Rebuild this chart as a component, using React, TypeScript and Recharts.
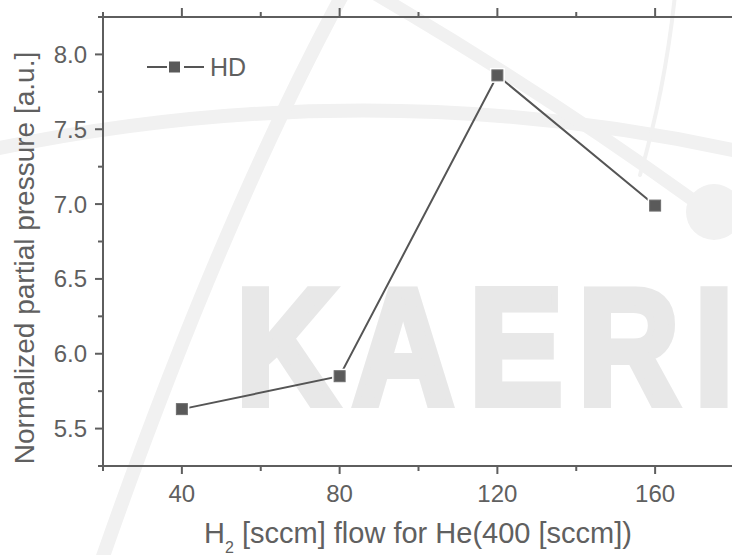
import { LineChart, Line, XAxis, YAxis, Label } from "recharts";

// H2 flow (sccm) and normalized HD partial pressure
const FLOW = [40, 80, 120, 160];
const HD = [5.63, 5.85, 7.86, 6.99];

const X_TICKS = [20, 40, 60, 80, 100, 120, 140, 160, 180];
const X_LABELS = [40, 80, 120, 160];
const Y_TICKS = [5.25, 5.5, 5.75, 6.0, 6.25, 6.5, 6.75, 7.0, 7.25, 7.5, 7.75, 8.0, 8.25];
const Y_LABELS = [5.5, 6.0, 6.5, 7.0, 7.5, 8.0];

const data = FLOW.map((f, i) => ({ flow: f, hd: HD[i] }));

const FONT = "'Liberation Sans', Arial, sans-serif";
const AXIS = "#5e5e5e";
const TEXT = "#606060";
const SERIES = "#555555";
const MARK = "#e8e8e8";
const SWOOP = "#f1f1f1";

const BottomTick = (props: any) => {
  const { x, y, payload } = props;
  const major = X_LABELS.includes(payload.value);
  return (
    <g>
      <line x1={x} x2={x} y1={y} y2={y + (major ? 8 : 5)} stroke={AXIS} strokeWidth={2} />
      {major && (
        <text x={x} y={y + 36} textAnchor="middle" fontSize={24} fill={TEXT} fontFamily={FONT}>
          {payload.value}
        </text>
      )}
    </g>
  );
};

const TopTick = (props: any) => {
  const { x, y, payload } = props;
  const major = X_LABELS.includes(payload.value);
  return <line x1={x} x2={x} y1={y} y2={y - (major ? 9 : 5)} stroke={AXIS} strokeWidth={2} />;
};

const LeftTick = (props: any) => {
  const { x, y, payload } = props;
  const major = Y_LABELS.some((v) => Math.abs(v - payload.value) < 1e-6);
  return (
    <g>
      <line x1={x - (major ? 8 : 5)} x2={x} y1={y} y2={y} stroke={AXIS} strokeWidth={2} />
      {major && (
        <text x={x - 16} y={y + 8.5} textAnchor="end" fontSize={24} fill={TEXT} fontFamily={FONT}>
          {payload.value.toFixed(1)}
        </text>
      )}
    </g>
  );
};

const SquareDot = (props: any) => {
  const { cx, cy, index } = props;
  return (
    <g key={index}>
      <rect x={cx - 7.5} y={cy - 7.5} width={15} height={15} fill="#ffffff" />
      <rect x={cx - 5.5} y={cy - 5.5} width={11} height={11} fill="#5a5a5a" stroke="#6e6e6e" strokeWidth={1} />
    </g>
  );
};

const XTitle = () => (
  <text x={418} y={543} textAnchor="middle" fontSize={29} fill={TEXT} fontFamily={FONT}>
    H<tspan fontSize={16} dy={10}>2</tspan>
    <tspan dy={-10}> [sccm] flow for He(400 [sccm])</tspan>
  </text>
);

const YTitle = () => (
  <text
    x={34}
    y={258}
    transform="rotate(-90 34 258)"
    textAnchor="middle"
    fontSize={28}
    fill={TEXT}
    fontFamily={FONT}
  >
    Normalized partial pressure [a.u.]
  </text>
);

export default function App() {
  return (
    <div style={{ position: "absolute", left: 0, top: 0, width: 732, height: 555, overflow: "hidden", background: "#fff" }}>
      {/* faint logo watermark behind the plot */}
      <svg width={732} height={555} style={{ position: "absolute", left: 0, top: 0 }}>
        <g fill="none" stroke={SWOOP} strokeLinecap="round">
          <path d="M -10 150 Q 370 70 742 152" strokeWidth={14} />
          <path d="M 345 -10 Q 220 220 100 565" strokeWidth={14} />
          <path d="M 372 -8 Q 540 90 690 198" strokeWidth={13} />
          <path d="M 675 -5 Q 665 90 640 175" strokeWidth={4} />
        </g>
        <circle cx={714} cy={212} r={28} fill={SWOOP} />
        <text
          transform="translate(236 404) scale(0.85 1)"
          x={0}
          y={0}
          fontSize={165}
          fontWeight="bold"
          letterSpacing={18}
          fill={MARK}
          stroke={MARK}
          strokeWidth={8}
          strokeLinejoin="miter"
          fontFamily={FONT}
        >
          KAERI
        </text>
      </svg>
      <div style={{ position: "absolute", left: 0, top: 0 }}>
        <LineChart width={734} height={555} data={data} margin={{ top: 16, right: 0, left: 0, bottom: 0 }}>
          <XAxis
            dataKey="flow"
            type="number"
            domain={[20, 180]}
            ticks={X_TICKS}
            interval={0}
            height={89}
            tickSize={0}
            tickMargin={0}
            tick={<BottomTick />}
            axisLine={{ stroke: AXIS, strokeWidth: 2 }}
            tickLine={false}
          >
            <Label content={<XTitle />} />
          </XAxis>
          <XAxis
            xAxisId="top"
            orientation="top"
            dataKey="flow"
            type="number"
            domain={[20, 180]}
            ticks={X_TICKS}
            interval={0}
            height={1}
            tickSize={0}
            tickMargin={0}
            tick={<TopTick />}
            axisLine={{ stroke: AXIS, strokeWidth: 2 }}
            tickLine={false}
          />
          <YAxis
            type="number"
            domain={[5.25, 8.25]}
            ticks={Y_TICKS}
            interval={0}
            width={103}
            tickSize={0}
            tickMargin={0}
            tick={<LeftTick />}
            axisLine={{ stroke: AXIS, strokeWidth: 2 }}
            tickLine={false}
          >
            <Label content={<YTitle />} />
          </YAxis>
          <Line
            type="linear"
            dataKey="hd"
            name="HD"
            stroke={SERIES}
            strokeWidth={2}
            dot={<SquareDot />}
            isAnimationActive={false}
          />
        </LineChart>
      </div>
      {/* legend */}
      <svg width={110} height={32} style={{ position: "absolute", left: 145, top: 52 }}>
        <line x1={2} x2={22} y1={15} y2={15} stroke={SERIES} strokeWidth={2} />
        <rect x={24} y={9.5} width={11} height={11} fill="#5a5a5a" />
        <line x1={39} x2={59} y1={15} y2={15} stroke={SERIES} strokeWidth={2} />
        <text x={65} y={24} fontSize={25} fill={TEXT} fontFamily={FONT}>HD</text>
      </svg>
    </div>
  );
}
